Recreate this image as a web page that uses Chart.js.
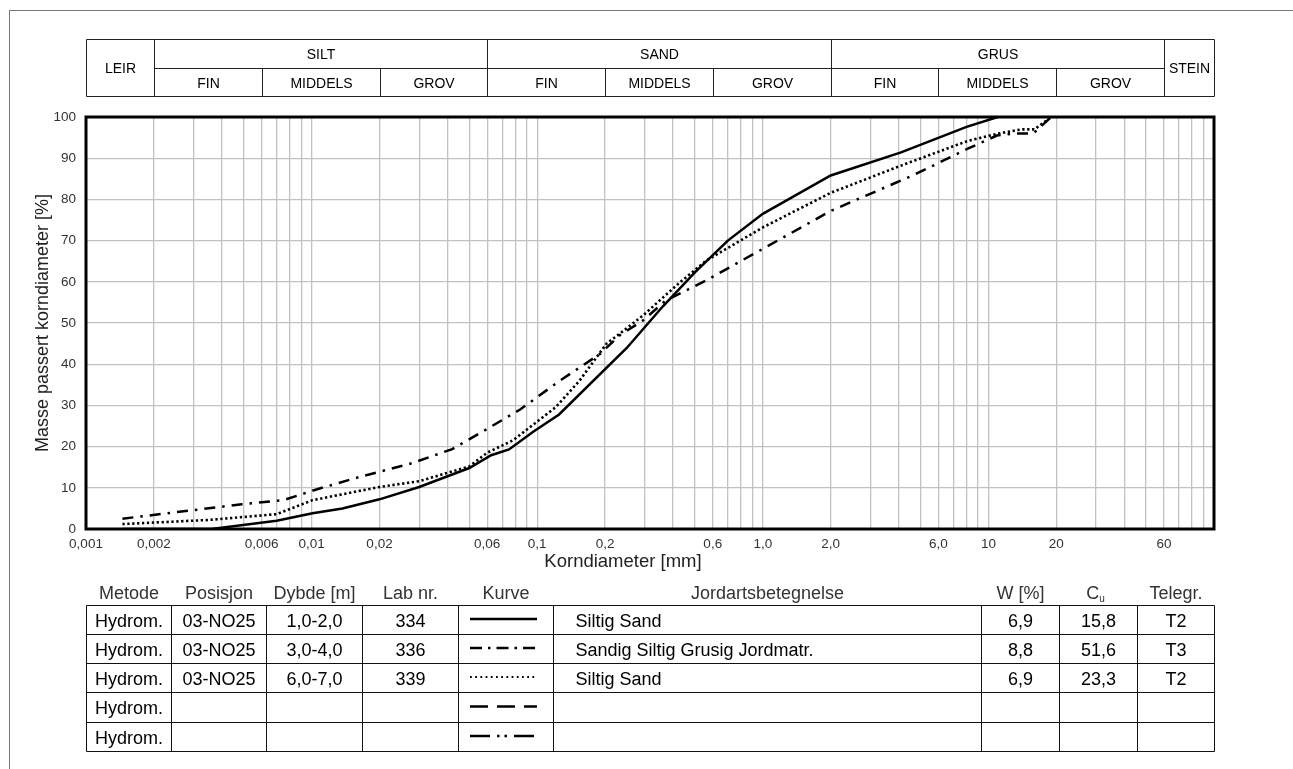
<!DOCTYPE html>
<html>
<head>
<meta charset="utf-8">
<script src="https://cdn.jsdelivr.net/npm/chart.js@4.4.0/dist/chart.umd.min.js"></script>
<style>
html,body{margin:0;padding:0;background:#fff;}
body{width:1293px;height:769px;position:relative;overflow:hidden;font-family:"Liberation Sans",Arial,sans-serif;}
#frame{position:absolute;left:9px;top:10px;width:1400px;height:900px;border-left:1px solid #777;border-top:1px solid #777;box-sizing:border-box;}
#chart{position:absolute;left:0;top:0;}
#overlay{position:absolute;left:0;top:0;pointer-events:none;}
</style>
</head>
<body>
<div id="frame"></div>
<canvas id="chart" width="1293" height="769"></canvas>
<svg id="overlay" width="1293" height="769" xmlns="http://www.w3.org/2000/svg"></svg>
<script>
// ---------- data ----------
const xTickValues = [0.001, 0.002, 0.006, 0.01, 0.02, 0.06, 0.1, 0.2, 0.6, 1, 2, 6, 10, 20, 60];
const xTickLabels = ['0,001', '0,002', '0,006', '0,01', '0,02', '0,06', '0,1', '0,2', '0,6', '1,0', '2,0', '6,0', '10', '20', '60'];
const yTickValues = [0, 10, 20, 30, 40, 50, 60, 70, 80, 90, 100];

// Lab nr. 334 (solid)
const diam334 = [0.00145, 0.0036, 0.0070, 0.0101, 0.0137, 0.020, 0.030, 0.050, 0.0625, 0.075, 0.096, 0.125, 0.25, 0.36, 0.50, 0.70, 1.0, 2.0, 4.1, 8.0, 11.0];
const pass334 = [0, 0, 2.0, 3.8, 5.0, 7.2, 10.2, 14.8, 17.9, 19.3, 23.6, 27.8, 44.0, 54.0, 62.3, 70.0, 76.5, 85.8, 91.4, 97.6, 100];
// Lab nr. 336 (dash-dot)
const diam336 = [0.00145, 0.0049, 0.0075, 0.0105, 0.016, 0.028, 0.042, 0.0587, 0.084, 0.126, 0.19, 0.232, 0.294, 0.37, 0.56, 1.0, 2.0, 4.7, 8.1, 10.9, 12.9, 15.8, 19.0];
const pass336 = [2.5, 6.0, 7.0, 9.6, 12.5, 16.0, 19.4, 24.0, 29.0, 36.0, 42.5, 47.0, 50.6, 55.4, 60.3, 68.0, 77.2, 86.0, 92.3, 95.5, 96.0, 96.0, 100];
// Lab nr. 339 (dotted)
const diam339 = [0.00145, 0.0035, 0.0070, 0.0101, 0.020, 0.030, 0.050, 0.060, 0.078, 0.121, 0.154, 0.203, 0.232, 0.294, 0.43, 0.56, 1.0, 2.0, 4.1, 8.1, 10.9, 14.0, 16.0, 19.0];
const pass339 = [1.2, 2.2, 3.6, 7.0, 10.2, 11.6, 15.2, 18.5, 21.5, 29.6, 36.0, 45.0, 47.4, 51.8, 59.9, 65.1, 73.2, 81.6, 88.2, 94.2, 95.9, 97.0, 97.0, 100];

// fraction header
const fractionBounds = [0.001, 0.002, 0.006, 0.02, 0.06, 0.2, 0.6, 2, 6, 20, 60, 100];
const mainFractions = ['LEIR', 'SILT', 'SAND', 'GRUS', 'STEIN'];
const subFractions = ['FIN', 'MIDDELS', 'GROV'];

// table
const tableHeaders = ['Metode', 'Posisjon', 'Dybde [m]', 'Lab nr.', 'Kurve', 'Jordartsbetegnelse', 'W [%]', 'Cu', 'Telegr.'];
const methods = ['Hydrom.', 'Hydrom.', 'Hydrom.', 'Hydrom.', 'Hydrom.'];
const positions = ['03-NO25', '03-NO25', '03-NO25', '', ''];
const depths = ['1,0-2,0', '3,0-4,0', '6,0-7,0', '', ''];
const labNos = ['334', '336', '339', '', ''];
const soilNames = ['Siltig Sand', 'Sandig Siltig Grusig Jordmatr.', 'Siltig Sand', '', ''];
const waterContents = ['6,9', '8,8', '6,9', '', ''];
const cuValues = ['15,8', '51,6', '23,3', '', ''];
const telegrs = ['T2', 'T3', 'T2', '', ''];
const curveDashes = [[], [12, 6, 2.5, 6], [1.8, 3.4], [18, 9], [20, 7, 2.5, 5, 2.5, 7]];

// ---------- chart ----------
const gridDiameters = [];
for (let e = -3; e <= 1; e++) for (let k = 1; k <= 9; k++) gridDiameters.push(+(k * Math.pow(10, e)).toPrecision(3));
gridDiameters.push(100);

function pts(xs, ys) { return xs.map((x, i) => ({x: x, y: ys[i]})); }

const FONT = '"Liberation Sans", Arial, sans-serif';
const gridColor = '#c2c2c2';

const plotBorder = {
  id: 'plotBorder',
  afterDatasetsDraw(chart) {
    const a = chart.chartArea, ctx = chart.ctx;
    ctx.save();
    ctx.strokeStyle = '#000';
    ctx.lineWidth = 3;
    ctx.strokeRect(a.left, a.top, a.right - a.left, a.bottom - a.top);
    ctx.restore();
  }
};

const chart = new Chart(document.getElementById('chart'), {
  type: 'line',
  data: {
    datasets: [
      {label: '334', data: pts(diam334, pass334), borderColor: '#000', borderWidth: 2.5, pointRadius: 0, tension: 0},
      {label: '336', data: pts(diam336, pass336), borderColor: '#000', borderWidth: 2.5, borderDash: [11, 7, 2.5, 7], pointRadius: 0, tension: 0},
      {label: '339', data: pts(diam339, pass339), borderColor: '#000', borderWidth: 2.6, borderDash: [2.3, 2.6], pointRadius: 0, tension: 0}
    ]
  },
  options: {
    responsive: false,
    animation: false,
    devicePixelRatio: 1,
    layout: {padding: {left: 36, top: 117, right: 79, bottom: 200}},
    plugins: {legend: {display: false}, tooltip: {enabled: false}, title: {display: false}},
    scales: {
      x: {
        type: 'logarithmic',
        min: 0.001, max: 100,
        afterBuildTicks: (s) => { s.ticks = gridDiameters.map(v => ({value: v})); },
        afterFit: (s) => { s.height = 40; },
        border: {display: false},
        grid: {color: gridColor, lineWidth: 1.3, drawTicks: false},
        ticks: {
          autoSkip: false, maxRotation: 0, minRotation: 0, padding: 7,
          color: '#333', font: {family: FONT, size: 13.5},
          callback: (value) => {
            const i = xTickValues.findIndex(v => Math.abs(v - value) / v < 1e-6);
            return i >= 0 ? xTickLabels[i] : '';
          }
        }
      },
      y: {
        type: 'linear',
        min: 0, max: 100,
        afterBuildTicks: (s) => { s.ticks = yTickValues.map(v => ({value: v})); },
        afterFit: (s) => { s.width = 50; },
        border: {display: false},
        grid: {color: gridColor, lineWidth: 1.3, drawTicks: false},
        ticks: {padding: 10, color: '#333', font: {family: FONT, size: 13.5}}
      }
    }
  },
  plugins: [plotBorder]
});

// ---------- overlay (header classes, titles, table) ----------
const NS = 'http://www.w3.org/2000/svg';
const svg = document.getElementById('overlay');
function line(x1, y1, x2, y2, opts) {
  const l = document.createElementNS(NS, 'line');
  l.setAttribute('x1', x1); l.setAttribute('y1', y1); l.setAttribute('x2', x2); l.setAttribute('y2', y2);
  l.setAttribute('stroke', (opts && opts.color) || '#222');
  l.setAttribute('stroke-width', (opts && opts.width) || 1);
  if (opts && opts.dash) l.setAttribute('stroke-dasharray', opts.dash.join(' '));
  svg.appendChild(l);
  return l;
}
function text(str, x, y, opts) {
  const t = document.createElementNS(NS, 'text');
  t.setAttribute('x', x); t.setAttribute('y', y);
  t.setAttribute('font-family', '"Liberation Sans", Arial, sans-serif');
  t.setAttribute('font-size', (opts && opts.size) || 13);
  t.setAttribute('fill', (opts && opts.color) || '#000');
  t.setAttribute('text-anchor', (opts && opts.anchor) || 'middle');
  if (opts && opts.transform) t.setAttribute('transform', opts.transform);
  t.textContent = str;
  svg.appendChild(t);
  return t;
}
const px = (v) => Math.round(chart.scales.x.getPixelForValue(v)) + 0.5;

// fraction header table
const hTop = 39.5, hMid = 68.5, hBot = 96.5;
const bx = fractionBounds.map(px);
const L = bx[0], R = bx[bx.length - 1];
line(L, hTop, R, hTop); line(L, hBot, R, hBot);
line(L, hTop, L, hBot); line(R, hTop, R, hBot);
line(bx[1], hMid, bx[10], hMid);
[1, 4, 7, 10].forEach(i => line(bx[i], hTop, bx[i], hBot));
[2, 3, 5, 6, 8, 9].forEach(i => line(bx[i], hMid, bx[i], hBot));
const hs = 14;
text(mainFractions[0], (bx[0] + bx[1]) / 2, (hTop + hBot) / 2 + 5, {size: hs});
text(mainFractions[1], (bx[1] + bx[4]) / 2, (hTop + hMid) / 2 + 5, {size: hs});
text(mainFractions[2], (bx[4] + bx[7]) / 2, (hTop + hMid) / 2 + 5, {size: hs});
text(mainFractions[3], (bx[7] + bx[10]) / 2, (hTop + hMid) / 2 + 5, {size: hs});
text(mainFractions[4], (bx[10] + bx[11]) / 2, (hTop + hBot) / 2 + 5, {size: hs});
for (let g = 0; g < 3; g++) {
  for (let s = 0; s < 3; s++) {
    const a = bx[1 + g * 3 + s], b = bx[2 + g * 3 + s];
    text(subFractions[s], (a + b) / 2, (hMid + hBot) / 2 + 5, {size: hs});
  }
}

// axis titles
const ca = chart.chartArea;
text('Korndiameter [mm]', 623, 567, {size: 18.5, color: '#222'});
text('Masse passert korndiameter [%]', 0, 0, {size: 18, color: '#222', transform: 'translate(48,' + ((ca.top + ca.bottom) / 2) + ') rotate(-90)'});

// data table
const colX = [86, 171, 266, 362, 458, 553, 981, 1059, 1137, 1214].map(v => v + 0.5);
const rowY = [605, 634, 663, 692, 722, 751].map(v => v + 0.5);
const ts = 18;
rowY.forEach(y => line(colX[0], y, colX[colX.length - 1], y, {color: '#111'}));
colX.forEach(x => line(x, rowY[0], x, rowY[rowY.length - 1], {color: '#111'}));
// headers
tableHeaders.forEach((h, i) => {
  const cx = (colX[i] + colX[i + 1]) / 2;
  if (h === 'Cu') {
    const t = text('C', cx - 3, 599, {size: ts, color: '#333'});
    const sub = document.createElementNS(NS, 'tspan');
    sub.setAttribute('font-size', 10); sub.setAttribute('dy', 3);
    sub.textContent = 'u';
    t.appendChild(sub);
  } else {
    text(h, cx, 599, {size: ts, color: '#333'});
  }
});
for (let r = 0; r < 5; r++) {
  const y = (rowY[r] + rowY[r + 1]) / 2 + 6.5;
  const cells = [methods[r], positions[r], depths[r], labNos[r]];
  cells.forEach((c, i) => { if (c) text(c, (colX[i] + colX[i + 1]) / 2, y, {size: ts}); });
  if (soilNames[r]) text(soilNames[r], colX[5] + 22, y, {size: ts, anchor: 'start'});
  [waterContents[r], cuValues[r], telegrs[r]].forEach((c, i) => { if (c) text(c, (colX[6 + i] + colX[7 + i]) / 2, y, {size: ts}); });
  const ly = (rowY[r] + rowY[r + 1]) / 2 - 1;
  line(470, ly, 537, ly, {color: '#000', width: r === 2 ? 1.8 : 2.5, dash: curveDashes[r].length ? curveDashes[r] : null});
}
</script>
</body>
</html>
